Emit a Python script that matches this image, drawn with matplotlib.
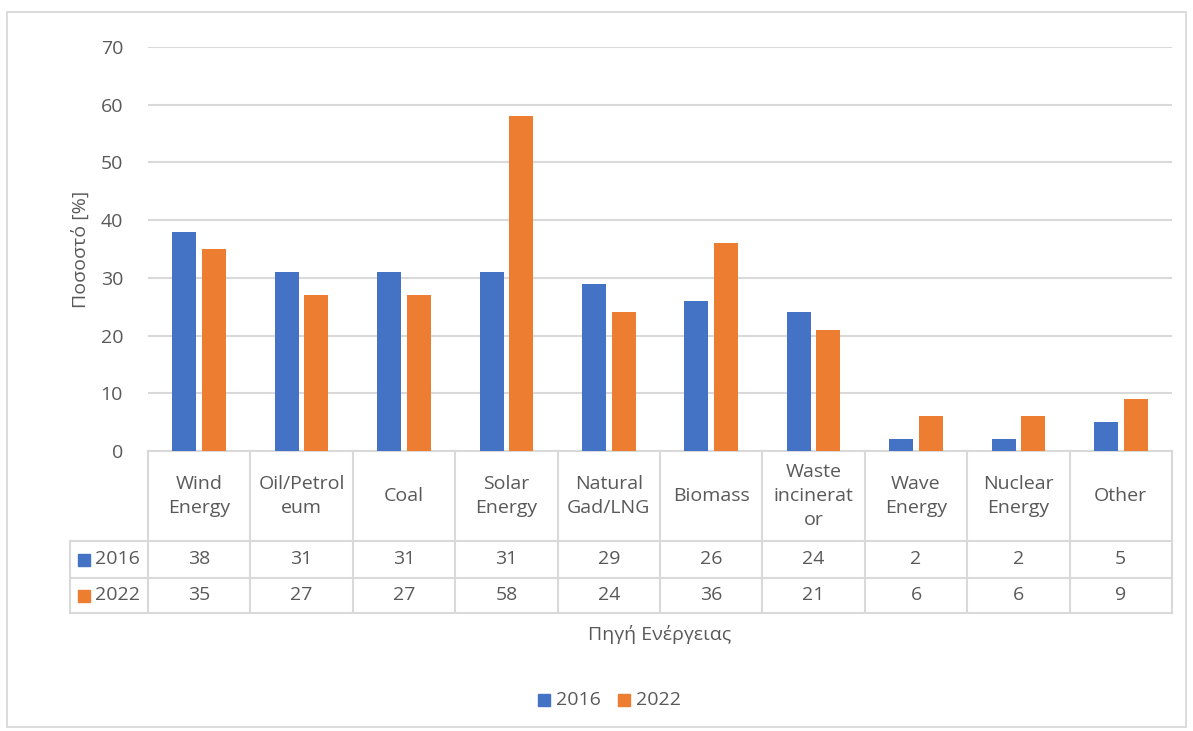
import matplotlib.pyplot as plt
import matplotlib.transforms as mtransforms
from matplotlib.patches import Rectangle
import numpy as np

plt.rcParams['font.family'] = ['Open Sans', 'DejaVu Sans']

categories = ['Wind\nEnergy', 'Oil/Petrol\neum', 'Coal', 'Solar\nEnergy', 'Natural\nGad/LNG',
              'Biomass', 'Waste\nincinerat\nor', 'Wave\nEnergy', 'Nuclear\nEnergy', 'Other']
series_names = ['2016', '2022']
values_2016 = [38, 31, 31, 31, 29, 26, 24, 2, 2, 5]
values_2022 = [35, 27, 27, 58, 24, 36, 21, 6, 6, 9]
colors = ['#4472C4', '#ED7D31']
grid_c = '#d9d9d9'
text_c = '#595959'
fs = 14

W, H = 1193, 731
fig = plt.figure(figsize=(W / 100, H / 100), dpi=100)

def fy(py):
    return 1 - py / H

# chart border
fig.patches.append(Rectangle((7 / W, fy(727)), 1179 / W, 715 / H, transform=fig.transFigure,
                             fill=False, edgecolor=grid_c, lw=1.3))

ax = fig.add_axes([148 / W, fy(451), 1024 / W, (451 - 47) / H])
x = np.arange(len(categories))
bw = 0.235
ax.bar(x - 0.145, values_2016, bw, color=colors[0], zorder=3)
ax.bar(x + 0.145, values_2022, bw, color=colors[1], zorder=3)
ax.set_xlim(-0.5, len(categories) - 0.5)
ax.set_ylim(0, 70)
ax.set_yticks(range(0, 71, 10))
ax.yaxis.grid(True, color=grid_c, lw=1.5, zorder=0)
ax.tick_params(axis='y', length=0, labelsize=fs, labelcolor=text_c, pad=18)
ax.set_xticks([])
for s in ['top', 'right', 'left']:
    ax.spines[s].set_visible(False)
ax.spines['bottom'].set_color(grid_c)
ax.spines['bottom'].set_linewidth(1.5)
ax.set_ylabel('Ποσοστό [%]', fontsize=fs, color=text_c, labelpad=8)

# data table under the axis
tr = mtransforms.blended_transform_factory(ax.transData, fig.transFigure)
left_x = -0.5 - 78 / 102.4
y_head, y_r1, y_r2, y_r3 = 451, 541, 578, 613
lkw = dict(color=grid_c, lw=1.5, transform=tr, clip_on=False)
for b in np.arange(-0.5, len(categories)):
    ax.plot([b, b], [fy(y_head), fy(y_r3)], **lkw)
ax.plot([left_x, left_x], [fy(y_r1), fy(y_r3)], **lkw)
for yy in [y_r1, y_r2, y_r3]:
    ax.plot([left_x, len(categories) - 0.5], [fy(yy), fy(yy)], **lkw)

for i, cat in enumerate(categories):
    ax.text(i, fy((y_head + y_r1) / 2), cat, transform=tr, ha='center', va='center',
            fontsize=fs, color=text_c, linespacing=1.4)
    ax.text(i, fy((y_r1 + y_r2) / 2), str(values_2016[i]), transform=tr, ha='center',
            va='center', fontsize=fs, color=text_c)
    ax.text(i, fy((y_r2 + y_r3) / 2), str(values_2022[i]), transform=tr, ha='center',
            va='center', fontsize=fs, color=text_c)

for k, (yy0, yy1) in enumerate([(y_r1, y_r2), (y_r2, y_r3)]):
    yc = (yy0 + yy1) / 2
    fig.patches.append(Rectangle((78 / W, fy(yc + 6)), 12 / W, 12 / H, transform=fig.transFigure,
                                 color=colors[k]))
    fig.text(95 / W, fy(yc), series_names[k], ha='left', va='center', fontsize=fs, color=text_c)

fig.text(660 / W, fy(635), 'Πηγή Ενέργειας', ha='center', va='center', fontsize=fs, color=text_c)

# legend
for k, (px, name) in enumerate([(538, '2016'), (618, '2022')]):
    fig.patches.append(Rectangle((px / W, fy(706)), 12 / W, 12 / H, transform=fig.transFigure,
                                 color=colors[k]))
    fig.text((px + 18) / W, fy(700), name, ha='left', va='center', fontsize=fs, color=text_c)

fig.savefig('out.png', dpi=100, facecolor='white')
